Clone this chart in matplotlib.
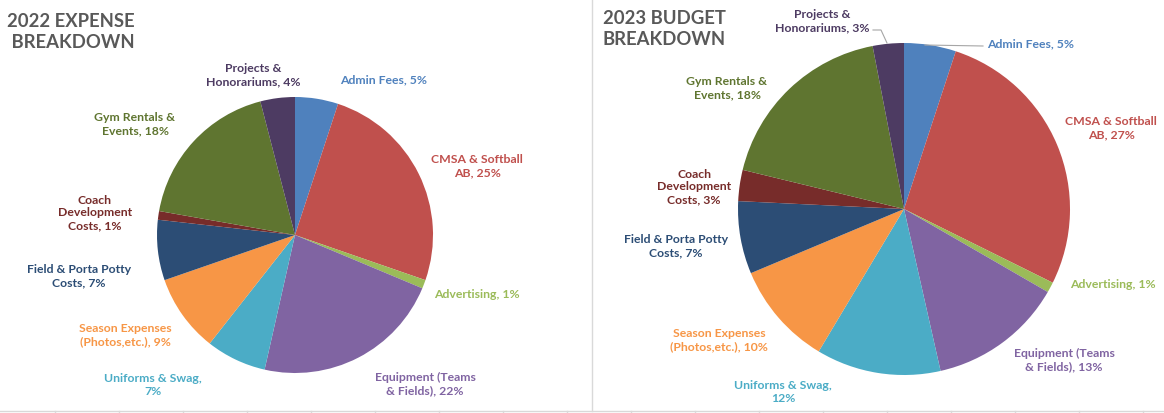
import matplotlib
matplotlib.use("Agg")
import matplotlib.pyplot as plt

plt.rcParams['font.family'] = ['Lato', 'DejaVu Sans']

# categories (label templates, same wrapping in both charts)
labels = ["Admin Fees, {}%",
          "CMSA & Softball\nAB, {}%",
          "Advertising, {}%",
          "Equipment (Teams\n& Fields), {}%",
          "Uniforms & Swag,\n{}%",
          "Season Expenses\n(Photos,etc.), {}%",
          "Field & Porta Potty\nCosts, {}%",
          "Coach\nDevelopment\nCosts, {}%",
          "Gym Rentals &\nEvents, {}%",
          "Projects &\nHonorariums, {}%"]

# percent shares
expense_2022 = [5, 25, 1, 22, 7, 9, 7, 1, 18, 4]
budget_2023 = [5, 27, 1, 13, 12, 10, 7, 3, 18, 3]

colors = ['#4F81BD', '#C0504D', '#9BBB59', '#8064A2', '#4BACC6',
          '#F79646', '#2C4D75', '#772C2A', '#5F7530', '#4D3B62']

# label centres in pixel coords
pos_2022 = [(384, 80), (477, 166), (477, 295), (425, 384), (153, 385),
            (125, 335), (79, 276), (95, 213), (135, 124), (253, 75)]
pos_2023 = [(1031, 44), (1111, 128), (1113, 285), (1064, 360), (783, 392),
            (719, 340), (676, 246), (694, 187), (727, 88), (822, 21)]

fig = plt.figure(figsize=(11.64, 4.13), dpi=100)
ax = fig.add_axes([0, 0, 1, 1])

# y axis is flipped, so startangle -90 = 12 o'clock and ccw draws clockwise
ax.pie(expense_2022, colors=colors, startangle=-90, counterclock=True,
       center=(295, 235), radius=138, wedgeprops=dict(linewidth=0))
ax.pie(budget_2023, colors=colors, startangle=-90, counterclock=True,
       center=(904, 209), radius=166, wedgeprops=dict(linewidth=0))

for vals, pos in [(expense_2022, pos_2022), (budget_2023, pos_2023)]:
    for lab, v, (x, y), c in zip(labels, vals, pos, colors):
        ax.text(x, y, lab.format(v), color=c, fontsize=8.8, fontweight='bold',
                ha='center', va='center', linespacing=1.2)

# leader lines on the 2023 chart
ax.plot([983, 925], [46, 45], color='#A6A6A6', lw=0.8)
ax.plot([873, 881, 887], [30, 30, 43], color='#A6A6A6', lw=0.8)

# titles
ax.text(7, 32, "2022 EXPENSE\n BREAKDOWN", color='#595959', fontsize=13.3,
        fontweight='bold', ha='left', va='center', linespacing=1.35)
ax.text(603, 29, "2023 BUDGET\nBREAKDOWN", color='#595959', fontsize=13.3,
        fontweight='bold', ha='left', va='center', linespacing=1.35)

# chart borders and spreadsheet grid at the bottom
ax.plot([592, 592], [0, 411], color='#D9D9D9', lw=1)
ax.plot([0, 1164], [411, 411], color='#D9D9D9', lw=1)
for gx in range(55, 1164, 64):
    ax.plot([gx, gx], [411, 413], color='#D9D9D9', lw=1)

ax.set_xlim(0, 1164)
ax.set_ylim(413, 0)
ax.set_aspect('auto')
ax.axis('off')

fig.savefig('out.png', dpi=100)
